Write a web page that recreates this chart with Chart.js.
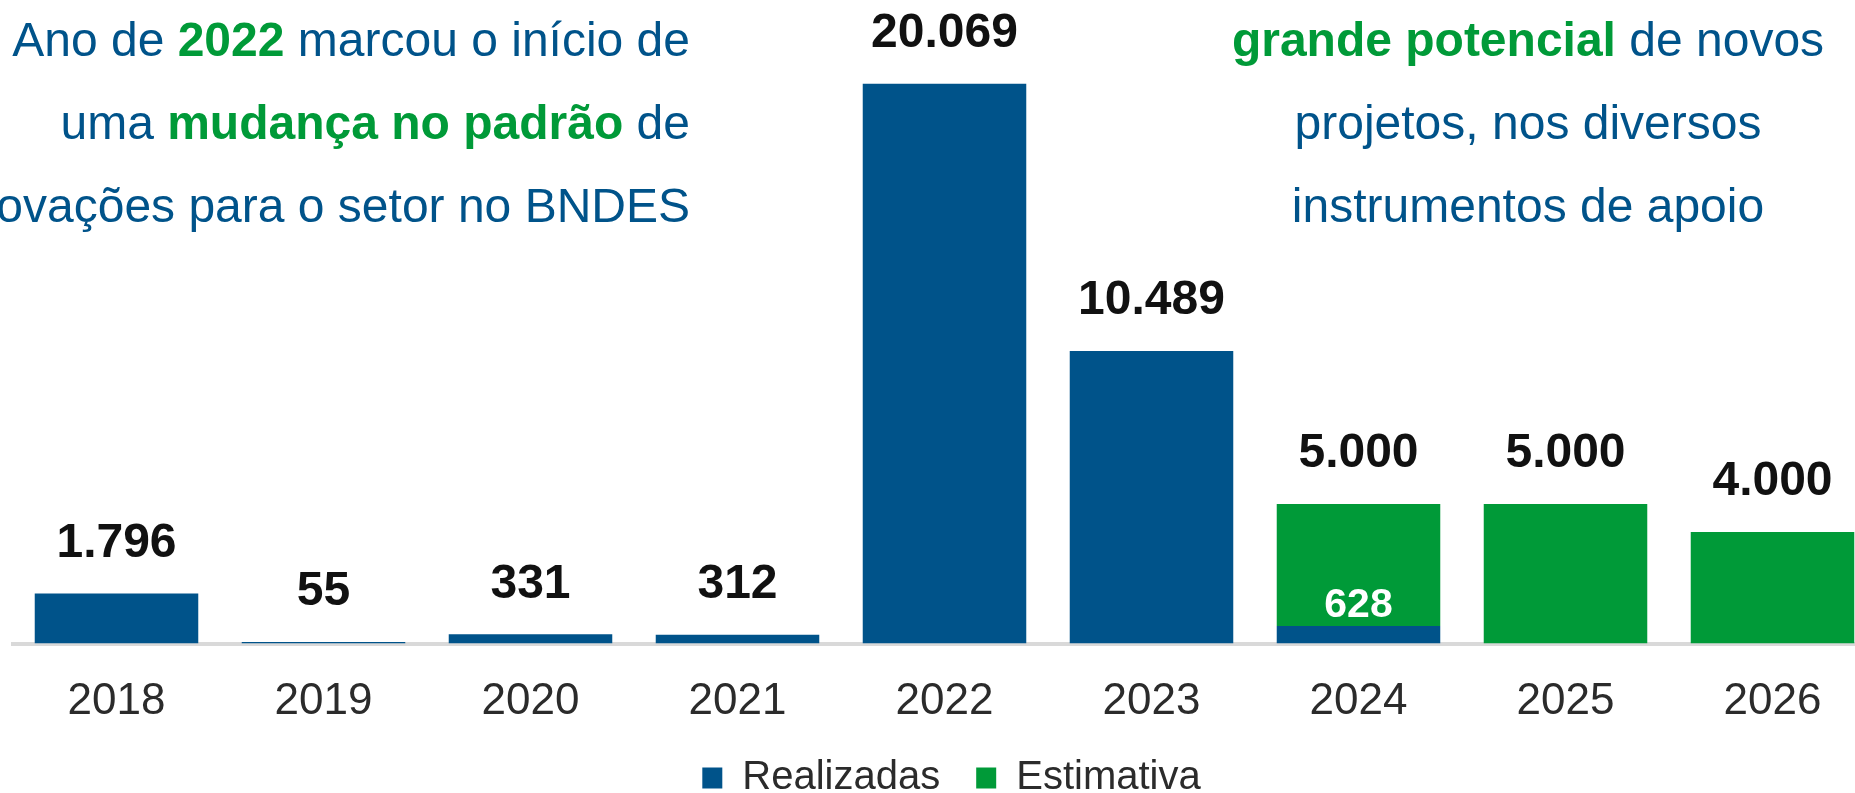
<!DOCTYPE html>
<html>
<head>
<meta charset="utf-8">
<script src="https://cdn.jsdelivr.net/npm/chart.js@4.4.1/dist/chart.umd.min.js"></script>
<style>
  html, body { margin: 0; padding: 0; background: #ffffff; overflow: hidden; width: 1855px; height: 793px; }
  #wrap { position: absolute; left: 0; top: 0; width: 1876px; height: 808px; }
  .note { position: absolute; z-index: 2; font-family: "Liberation Sans", Arial, sans-serif; font-size: 48px; line-height: 83px; color: #00538A; white-space: nowrap; }
  .note b { color: #009A38; }
  #noteLeft { right: 1165px; top: -2.5px; text-align: right; }
  #noteRight { left: 1128px; width: 800px; top: -2.5px; text-align: center; }
</style>
</head>
<body>
<div id="noteLeft" class="note">Ano de <b>2022</b> marcou o início de<br>uma <b>mudança no padrão</b> de<br>aprovações para o setor no BNDES</div>
<div id="noteRight" class="note"><b>grande potencial</b> de novos<br>projetos, nos diversos<br>instrumentos de apoio</div>
<div id="wrap"><canvas id="c" width="1876" height="808"></canvas></div>
<script>
// ---- data ----
const years = ['2018', '2019', '2020', '2021', '2022', '2023', '2024', '2025', '2026'];
const realizadas = [1796, 55, 331, 312, 20069, 10489, 628, null, null];
const estimativa = [null, null, null, null, null, null, 5000, 5000, 4000]; // estimated totals
const seriesNames = ['Realizadas', 'Estimativa'];

// stacked segment of the estimate above what was already realized
const estimativaSeg = estimativa.map((v, i) => v == null ? null : v - (realizadas[i] || 0));
const totals = years.map((_, i) => estimativa[i] != null ? estimativa[i] : realizadas[i]);

const BLUE = '#00538A';
const GREEN = '#009A38';
const FONT = '"Liberation Sans", Arial, sans-serif';

function fmt(n) {
  return String(n).replace(/\B(?=(\d{3})+(?!\d))/g, '.');
}

const valueLabels = {
  id: 'valueLabels',
  afterDatasetsDraw(chart) {
    const ctx = chart.ctx;
    const xs = chart.scales.x;
    const ys = chart.scales.y;
    ctx.save();
    ctx.textAlign = 'center';
    ctx.textBaseline = 'middle';
    years.forEach((yr, i) => {
      const cx = xs.getPixelForValue(i);
      const top = ys.getPixelForValue(totals[i]);
      ctx.font = 'bold 48px ' + FONT;
      ctx.fillStyle = '#111111';
      ctx.fillText(fmt(totals[i]), cx, top - 50);
      if (realizadas[i] != null && estimativaSeg[i] != null) {
        ctx.font = 'bold 41px ' + FONT;
        ctx.fillStyle = '#ffffff';
        ctx.fillText(fmt(realizadas[i]), cx, ys.getPixelForValue(realizadas[i]) - 20);
      }
    });
    ctx.restore();
  }
};

// nudge the centred legend a little to the right, as in the original
const legendShift = {
  id: 'legendShift',
  afterLayout(chart) {
    if (chart.legend) { chart.legend.left += 14; }
  }
};

new Chart(document.getElementById('c'), {
  type: 'bar',
  data: {
    labels: years,
    datasets: [
      { label: seriesNames[0], data: realizadas, backgroundColor: BLUE, borderWidth: 0,
        barPercentage: 0.79, categoryPercentage: 1.0 },
      { label: seriesNames[1], data: estimativaSeg, backgroundColor: GREEN, borderWidth: 0,
        barPercentage: 0.79, categoryPercentage: 1.0 }
    ]
  },
  options: {
    responsive: false,
    animation: false,
    layout: { padding: { left: 13, right: 0, top: 2, bottom: 0 } },
    scales: {
      x: {
        stacked: true,
        grid: { display: false, drawTicks: false },
        border: { display: true, color: '#d9d9d9', width: 4 },
        ticks: { color: '#2b2b2b', font: { family: FONT, size: 44 }, padding: 32 },
        afterFit: (scale) => { scale.height = 78.5; }
      },
      y: {
        stacked: true,
        display: false,
        min: 0,
        max: 23000
      }
    },
    plugins: {
      legend: {
        position: 'bottom',
        labels: {
          color: '#2b2b2b',
          font: { family: FONT, size: 40 },
          boxWidth: 20,
          boxHeight: 21,
          padding: 36
        }
      },
      tooltip: { enabled: false }
    }
  },
  plugins: [valueLabels, legendShift]
});
</script>
</body>
</html>
